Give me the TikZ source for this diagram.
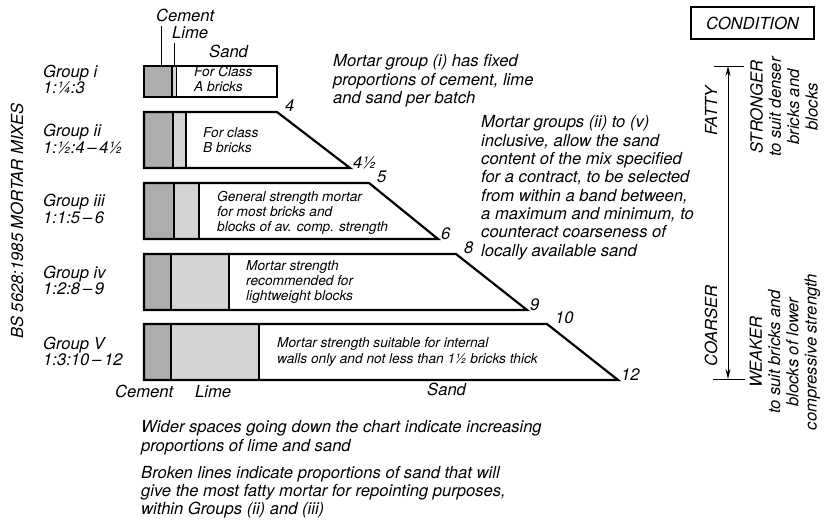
\documentclass[tikz,border=0pt]{standalone}
\usepackage{fontspec}
\setmainfont{TeX Gyre Heros}
\usetikzlibrary{arrows.meta}

\begin{document}
\begin{tikzpicture}[x=1pt,y=-1pt,
	every node/.style={inner sep=0pt,font=\itshape\fontsize{16.6}{18.3}\selectfont},
	grp/.style={anchor=base west,align=left,font=\itshape\fontsize{16.6}{16.5}\selectfont},
	small/.style={anchor=base west,align=left,font=\itshape\fontsize{13.7}{15.2}\selectfont},
	note/.style={anchor=base west,align=left},
	num/.style={anchor=base west},
	box/.style={line width=2.2pt,line join=miter},
	cem/.style={fill=black!32},
	lim/.style={fill=black!17},
	lead/.style={line width=0.9pt}]
	\useasboundingbox (0,0) rectangle (826,524);
	% group i
	\fill[cem] (144,66) rectangle (172,97);
	\fill[lim] (172,66) rectangle (176,97);
	\draw[box] (144,66) rectangle (277,97);
	\draw[box] (172,66) -- (172,97);
	\draw[lead] (176,66) -- (176,97);
	% groups ii to V
	\foreach \t/\c/\l/\a/\b/\lo/\hi in {112/173/186/277/350/4/4½,183/174/199/369/438/5/6,254/171/229/456/527/8/9,324/171/259/547/618/10/12}{
		\fill[cem] (144,\t) rectangle (\c,\t+56);
		\fill[lim] (\c,\t) rectangle (\l,\t+56);
		\draw[box] (144,\t) -- (\a,\t) -- (\b,\t+56) -- (144,\t+56) -- cycle;
		\draw[box] (\c,\t) -- (\c,\t+56) (\l,\t) -- (\l,\t+56);
		\node[num] (min\t) at (\a+8,\t-1) {\lo};
		\node[num] (max\t) at (\b+3,\t+56) {\hi};
	}
	\node[rotate=90] (bs) at (17,221) {BS 5628:1985 MORTAR MIXES};
	% base of a multi-line node = last line
	\node[grp] (gi) at (43,94) {Group i\\1:¼:3};
	\node[grp] (gii) at (43,153) {Group ii\\1:½:4\,–\,4½};
	\node[grp] (giii) at (43,223) {Group iii\\1:1:5\,–\,6};
	\node[grp] (giv) at (43,294.5) {Group iv\\1:2:8\,–\,9};
	\node[grp] (gv) at (43,365.5) {Group V\\1:3:10\,–\,12};
	% labels on top
	\node[num] (cemtop) at (156,22) {Cement};
	\node[num] (limtop) at (172,39) {Lime};
	\node[num] (sandtop) at (209,58) {Sand};
	\coordinate (cemhead) at (161,26);
	\coordinate (cemfoot) at (161,66);
	\coordinate (limhead) at (174,43);
	\coordinate (limfoot) at (174,66);
	\draw[lead] (cemhead) -- (cemfoot);
	\draw[lead] (limhead) -- (limfoot);
	\node[num] (cembot) at (115,397) {Cement};
	\node[num] (limbot) at (195,397) {Lime};
	\node[num] (sandbot) at (427,395) {Sand};
	% texts in the boxes
	\node[small] (ta) at (194,92) {For Class\\A bricks};
	\node[small] (tb) at (203,152.5) {For class\\B bricks};
	\node[small] (tgen) at (217,231.5) {General strength mortar\\for most bricks and\\blocks of av. comp. strength};
	\node[small] (tlight) at (246,300.5) {Mortar strength\\recommended for\\lightweight blocks};
	\node[small] (tint) at (277,363) {Mortar strength suitable for internal\\walls only and not less than 1½ bricks thick};
	% notes
	\node[note] (fixed) at (333,103.6) {Mortar group (i) has fixed\\proportions of cement, lime\\and sand per batch};
	\node[note] (band) at (481,256) {Mortar groups (ii) to (v)\\inclusive, allow the sand\\content of the mix specified\\for a contract, to be selected\\from within a band between,\\a maximum and minimum, to\\counteract coarseness of\\locally available sand};
	\node[note] (wider) at (141,451) {Wider spaces going down the chart indicate increasing\\proportions of lime and sand};
	\node[note] (broken) at (141,514.6) {Broken lines indicate proportions of sand that will\\give the most fatty mortar for repointing purposes,\\within Groups (ii) and (iii)};
	% condition scale
	\node[draw,line width=1.8pt,minimum width=123pt,minimum height=32pt] (cond) at (752.5,23) {CONDITION};
	\coordinate (ctop) at (728,66);
	\coordinate (cbot) at (728,379);
	\draw[lead] (714,66) -- (744,66);
	\draw[lead] (713,379) -- (745,379);
	\draw[lead,{Stealth[length=10pt,width=5pt]}-{Stealth[length=10pt,width=5pt]}] (ctop) -- (cbot);
	\node[rotate=90] (fatty) at (711,111) {FATTY};
	\node[rotate=90] (coarser) at (711,326) {COARSER};
	\node[rotate=90,align=center] (strong) at (784,107) {STRONGER\\to suit denser\\bricks and\\blocks};
	\node[rotate=90,align=center] (weak) at (785,352) {WEAKER\\to suit bricks and\\blocks of lower\\compressive strength};
\end{tikzpicture}
\end{document}
